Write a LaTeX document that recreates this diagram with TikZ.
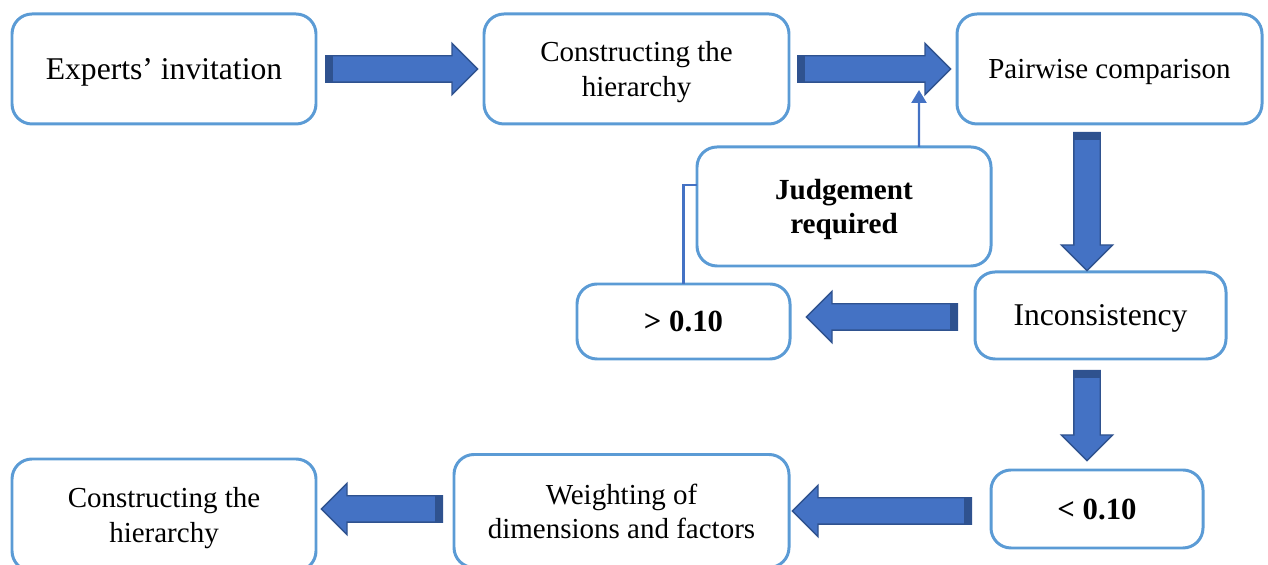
\documentclass[tikz,border=0pt]{standalone}
\usepackage{fontspec}
\setmainfont{Liberation Serif}
\usepackage{tikz}
\usetikzlibrary{shapes,arrows.meta,positioning,calc}
\definecolor{boxblue}{HTML}{5B9BD5}
\definecolor{arrowfill}{HTML}{4472C4}
\definecolor{arrowline}{HTML}{2F528F}
\tikzset{
    block/.style={
        rectangle,
        draw=boxblue,
        line width=1.7pt,
        rounded corners=0.4cm,
        align=center,
        inner sep=0pt,
        outer sep=0pt,
        text depth=0pt,
        font=\fontsize{16.5}{19.5}\selectfont
    },
    bigfont/.style={font=\fontsize{18}{21}\selectfont},
    boldfont/.style={font=\fontsize{17.5}{19.5}\selectfont\bfseries},
    bigarrow/.style={
        single arrow,
        single arrow head extend=0.25cm,
        inner sep=0.25cm,
        fill=arrowfill,
        draw=arrowline,
        line width=0.8pt
    },
    tailband/.style={
        rectangle,
        fill=arrowline,
        inner sep=0pt,
        minimum width=0.16cm,
        minimum height=0.56cm
    },
    blockarrow/.style={
        to path={
            let \p1=(\tikztostart), \p2=(\tikztotarget),
                \n1={atan2(\y2-\y1,\x2-\x1)},
                \n2={veclen(\x2-\x1,\y2-\y1)}
            in (\p1) node[bigarrow, anchor=tail, rotate=\n1, minimum height=\n2] {}
               ($(\p1)!0.08cm!(\p2)$) node[tailband, rotate=\n1] {}
        }
    },
    link/.style={draw=arrowfill, line width=1.4pt}
}

\begin{document}
\begin{tikzpicture}
    \useasboundingbox (0,0) rectangle (25.36,-11.3);

    % top row
    \node (experts) [block, bigfont, minimum width=6.08cm, minimum height=2.2cm] at (3.28,-1.38) {Experts’ invitation};
    \node (hier1) [block, minimum width=6.1cm, minimum height=2.2cm, right=3.36cm of experts] {Constructing the\\hierarchy};
    \node (pairwise) [block, minimum width=6.1cm, minimum height=2.2cm, right=3.36cm of hier1] {Pairwise comparison};

    % consistency check
    \node (incons) [block, bigfont, minimum width=5.02cm, minimum height=1.74cm, below=2.96cm of pairwise, xshift=-0.18cm] {Inconsistency};
    \node (gt) [block, boldfont, minimum width=4.26cm, minimum height=1.5cm, left=3.7cm of incons.south west, anchor=south east] {> 0.10};
    \node (judge) [block, font=\fontsize{16.6}{19.5}\selectfont\bfseries, minimum width=5.88cm, minimum height=2.38cm, above right=0.36cm and 2.4cm of gt.north west] {Judgement\\required};
    \node (lt) [block, boldfont, minimum width=4.24cm, minimum height=1.56cm, below=2.22cm of incons, xshift=-0.07cm] {< 0.10};

    % bottom row
    \node (weight) [block, minimum width=6.7cm, minimum height=2.26cm, left=4.04cm of lt, yshift=-0.04cm] {Weighting of\\dimensions and factors};
    \node (hier2) [block, minimum width=6.08cm, minimum height=2.24cm, left=2.76cm of weight, yshift=-0.08cm] {Constructing the\\hierarchy};

    % block arrows
    \path[blockarrow] ([xshift=0.18cm]experts.east) to ([xshift=-0.14cm]hier1.west);
    \path[blockarrow] ([xshift=0.16cm]hier1.east) to ([xshift=-0.14cm]pairwise.west);
    \path[blockarrow] ([shift={(-0.45,-0.16)}]pairwise.south) to ([shift={(-0.27,0.04)}]incons.north);
    \path[blockarrow] ([shift={(-0.34,-0.03)}]incons.west) to ([shift={(0.34,0.09)}]gt.east);
    \path[blockarrow] ([shift={(-0.27,-0.22)}]incons.south) to ([shift={(-0.2,0.2)}]lt.north);
    \path[blockarrow] ([shift={(-0.38,-0.04)}]lt.west) to ([xshift=0.08cm]weight.east);
    \path[blockarrow] ([shift={(-0.22,0.04)}]weight.west) to ([shift={(0.12,0.12)}]hier2.east);

    % feedback loop
    \draw[link] (gt.north) |- ([yshift=0.43cm]judge.west);
    \coordinate (back) at ([shift={(1.5,1.14)}]judge.north);
    \draw[link, -{Triangle[width=0.3cm,length=0.26cm]}] ([xshift=1.5cm]judge.north) -- (back);
\end{tikzpicture}
\end{document}
